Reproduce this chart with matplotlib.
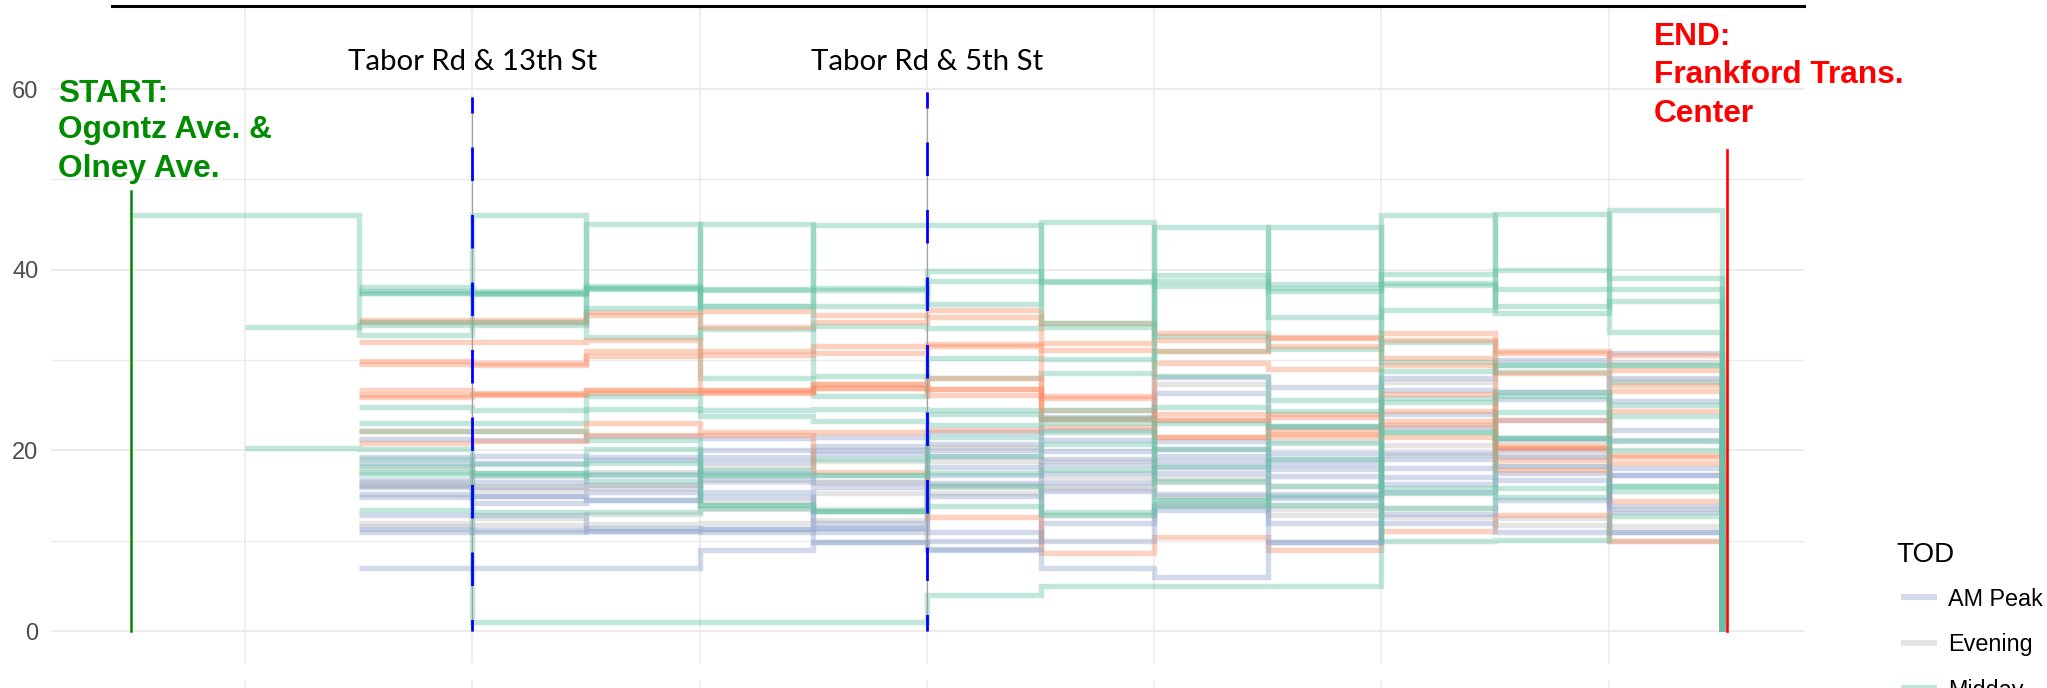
import matplotlib
matplotlib.use("Agg")
import matplotlib.pyplot as plt
from matplotlib.lines import Line2D
import numpy as np

plt.rcParams['lines.scale_dashes'] = False

# ---------------- data ----------------
stops = list(range(15))                 # stop index along the route (0 = start, 14 = end)
y_ticks = [0, 20, 40, 60]
y_minor = [10, 30, 50]
x_grid = [1, 3, 5, 7, 9, 11, 13]

tod_names = ["AM Peak", "Evening", "Midday", "PM Peak"]
tod_colors = ["#8DA0CB", "#BEBEBE", "#66C2A5", "#FC8D62"]

N = None
# values per segment (segment k runs from stop k to stop k+1)
am_peak_trips = [
    [N, N, 21.3, 21.2, 21.6, 21.4, 21.5, 22.0, 23.7, 28.1, 27.0, 28.0, 30.0, 30.8],
    [N, N, 19.3, 19.4, 19.3, 20.0, 20.5, 20.7, 22.2, 26.4, 22.6, 26.7, 26.5, 28.0],
    [N, N, 18.6, 18.6, 18.9, 19.3, 20.0, 20.0, 21.2, 21.0, 19.7, 24.0, 25.7, 25.5],
    [N, N, 16.7, 16.5, 17.3, 18.7, 19.6, 19.4, 19.9, 20.1, 19.0, 22.6, 23.4, 22.3],
    [N, N, 16.2, 15.9, 16.2, 17.5, 16.5, 18.2, 19.0, 19.4, 18.5, 19.7, 21.4, 21.2],
    [N, N, 15.9, 15.0, 15.4, 16.7, 15.9, 17.3, 18.4, 18.8, 17.9, 19.0, 20.0, 18.0],
    [N, N, 15.2, 14.2, 14.5, 15.4, 12.0, 16.4, 17.5, 18.2, 17.2, 18.0, 19.3, 17.3],
    [N, N, 14.8, 14.9, 14.5, 14.8, 11.4, 14.9, 16.4, 17.5, 15.2, 17.1, 18.3, 13.8],
    [N, N, 12.8, 12.8, 11.1, 11.3, 11.0, 10.0, 15.5, 15.2, 14.7, 16.3, 17.5, 13.2],
    [N, N, 11.3, 11.0, 11.1, 11.0, 9.8, 9.1, 12.0, 13.9, 12.0, 15.4, 16.7, 11.0],
    [N, N, 11.0, 11.2, 11.4, 11.3, 11.4, 11.0, 10.0, 13.4, 9.9, 13.0, 14.5, 17.3],
    [N, N, 7.0, 7.0, 7.0, 9.0, 9.9, 9.0, 7.0, 6.0, 9.9, 12.0, 11.0, 11.0],
]
evening_trips = [
    [N, N, 11.6, 11.7, 11.9, 12.0, 12.3, 15.3, 12.8, 14.0, 12.8, 12.6, 11.7, 10.0],
    [N, N, 18.0, 17.2, 17.6, 18.2, 18.8, 18.8, 18.8, 16.9, 14.0, 13.6, 12.5, 11.6],
    [N, N, 16.5, 15.6, 15.8, 14.3, 15.3, 15.9, 16.0, 15.0, 13.5, 19.5, 18.3, 13.5],
    [N, N, 12.0, 12.5, 13.0, 13.5, 13.5, 20.4, 16.9, 27.4, 21.0, 27.6, 21.0, 27.8],
    [N, N, 16.0, 16.0, 16.2, 16.5, 16.5, 16.2, 15.7, 16.5, 16.0, 20.6, 19.5, 29.8],
]
midday_trips = [
    [46.0, 46.0, 32.8, 46.0, 32.6, 33.4, 33.8, 33.6, 33.7, 32.7, 31.2, 32.0, 29.4, 29.4],
    [N, 33.7, 33.9, 33.9, 45.1, 28.0, 26.0, 30.2, 30.1, 44.7, 34.8, 35.5, 46.2, 33.1],
    [N, N, 34.2, 34.2, 35.8, 45.1, 28.2, 28.0, 28.6, 31.0, 44.7, 29.8, 28.7, 27.6],
    [N, N, 38.1, 37.6, 38.2, 36.0, 45.0, 45.0, 34.1, 38.7, 38.0, 38.3, 37.9, 37.9],
    [N, N, 37.4, 37.3, 38.0, 37.9, 38.0, 36.2, 45.3, 28.2, 25.6, 25.8, 26.5, 25.0],
    [N, N, 37.6, 37.4, 37.9, 37.8, 37.8, 38.8, 38.6, 38.2, 37.6, 38.5, 36.0, 46.6],
    [N, N, 37.4, 37.4, 38.0, 36.0, 36.0, 39.8, 38.8, 39.4, 38.4, 39.5, 40.0, 39.1],
    [N, N, 24.8, 24.5, 26.0, 24.5, 24.6, 24.5, 24.5, 24.8, 24.4, 25.3, 26.0, 23.8],
    [N, N, 23.0, 23.0, 24.6, 23.8, 23.2, 24.0, 23.6, 23.0, 22.7, 28.8, 29.4, 29.4],
    [N, N, 22.1, 22.1, 21.2, 17.8, 19.0, 22.8, 23.0, 20.2, 22.7, 22.0, 21.4, 21.0],
    [N, 20.3, 20.2, 1.0, 1.0, 1.0, 1.0, 4.0, 5.0, 5.0, 5.0, 46.0, 35.2, 36.5],
    [N, N, 19.0, 18.5, 20.1, 17.3, 17.3, 21.5, 22.0, 18.3, 20.8, 15.8, 15.8, 16.0],
    [N, N, 18.3, 17.5, 18.6, 17.3, 17.3, 19.4, 20.7, 16.6, 19.0, 15.3, 14.8, 15.5],
    [N, N, 17.6, 17.3, 17.4, 14.0, 13.3, 17.5, 17.8, 14.5, 16.0, 22.0, 24.2, 20.0],
    [N, N, 17.4, 17.5, 16.6, 14.0, 13.3, 16.1, 13.2, 13.8, 15.0, 13.6, 21.4, 16.0],
    [N, N, 13.4, 13.2, 13.2, 13.6, 13.3, 13.8, 12.8, 14.5, 14.0, 10.0, 10.1, 12.7],
]
pm_peak_trips = [
    [N, N, 34.4, 34.4, 35.3, 35.4, 35.0, 35.5, 34.1, 33.0, 32.6, 33.0, 31.0, 30.6],
    [N, N, 34.2, 34.2, 35.0, 33.7, 34.2, 34.8, 31.9, 32.2, 32.4, 32.2, 30.8, 28.9],
    [N, N, 32.0, 32.0, 32.2, 31.0, 31.5, 31.8, 31.1, 31.0, 31.5, 30.2, 28.6, 27.2],
    [N, N, 29.9, 29.7, 31.0, 30.6, 30.8, 31.6, 26.0, 29.7, 29.0, 29.5, 23.4, 26.6],
    [N, N, 29.6, 29.5, 30.5, 26.7, 27.3, 28.0, 25.8, 24.0, 24.0, 26.2, 20.5, 24.4],
    [N, N, 26.7, 26.4, 26.7, 26.5, 26.9, 26.8, 24.5, 23.4, 23.7, 24.4, 20.3, 19.5],
    [N, N, 26.1, 26.1, 26.3, 26.3, 27.3, 26.1, 23.5, 21.5, 22.2, 23.2, 18.9, 19.3],
    [N, N, 25.9, 26.2, 26.7, 26.7, 26.9, 26.8, 23.5, 23.4, 21.8, 22.8, 20.3, 18.6],
    [N, N, 22.1, 22.1, 23.0, 22.0, 22.0, 22.3, 22.6, 21.5, 21.6, 21.5, 17.8, 14.4],
    [N, N, 20.8, 21.0, 21.7, 21.7, 17.6, 12.6, 8.6, 10.4, 9.0, 11.1, 12.8, 10.0],
]
trips_by_tod = [am_peak_trips, evening_trips, midday_trips, pm_peak_trips]

start_label = ["START:", "Ogontz Ave. &", "Olney Ave."]
end_label = ["END:", "Frankford Trans.", "Center"]
timepoint_labels = ["Tabor Rd & 13th St", "Tabor Rd & 5th St"]
timepoint_stops = [3, 7]
timepoint_tops = [59.1, 59.7]
start_top, end_top, end_x = 48.7, 53.2, 14.04

# ---------------- figure ----------------
W, H, DPI = 2047, 688, 100
fig = plt.figure(figsize=(W / DPI, H / DPI), dpi=DPI)
fig.patch.set_facecolor("white")

def fx(px):
    return px / W

def fy(py):
    return 1 - py / H

ax = fig.add_axes([fx(51), fy(663), fx(1804 - 51), (663 - 7) / H])
ax.set_xlim(-0.7066, 14.718)
ax.set_ylim(-3.54, 69.08)
for s in ax.spines.values():
    s.set_visible(False)

grid_c = "#EBEBEB"
for y in y_ticks:
    ax.axhline(y, color=grid_c, lw=1.3, zorder=0)
for y in y_minor:
    ax.axhline(y, color=grid_c, lw=1.0, zorder=0)
for x in x_grid:
    ax.axvline(x, color=grid_c, lw=1.1, zorder=0)

ax.set_xticks([])
ax.set_yticks(y_ticks)
ax.set_yticklabels([str(v) for v in y_ticks], fontsize=17, color="#4D4D4D",
                   fontfamily="Liberation Sans")
ax.tick_params(axis="y", length=0, pad=9.0)

# trips (interleave colours so overlaps mix)
max_n = max(len(t) for t in trips_by_tod)
for i in range(max_n):
    for tod_i, trips in enumerate(trips_by_tod):
        if i >= len(trips):
            continue
        vals = trips[i]
        first = next(k for k, v in enumerate(vals) if v is not None)
        xs = stops[first:]
        ys = list(vals[first:]) + [0]
        ax.plot(xs, ys, drawstyle="steps-post", color=tod_colors[tod_i], alpha=0.4,
                lw=3.9, solid_joinstyle="miter", solid_capstyle="butt", zorder=2)

# start / end markers
ax.plot([0, 0], [0, start_top], color="#008B00", lw=1.8, zorder=4)
ax.plot([end_x, end_x], [0, end_top], color="#FF0000", lw=1.9, zorder=4)

for sx, top, lab in zip(timepoint_stops, timepoint_tops, timepoint_labels):
    ax.plot([sx, sx], [0, top], color="#A0A0A0", lw=0.9, zorder=3)
    ax.plot([sx, sx], [top, 0], color="#0000FF", lw=2.0, zorder=4,
            linestyle=(12.6, (24.1, 24.5)), solid_capstyle="butt", dash_capstyle="butt")
    ax.text(sx, 62.1, lab, ha="center", va="baseline", fontsize=21.2,
            fontfamily="Lato", color="black")

for txt, yb in zip(start_label, [58.6, 54.55, 50.3]):
    ax.text(-0.645, yb, txt, ha="left", va="baseline", fontsize=22.8, fontweight="bold",
            fontfamily="Liberation Sans", color="#008B00")
for txt, yb in zip(end_label, [64.87, 60.63, 56.38]):
    ax.text(13.398, yb, txt, ha="left", va="baseline", fontsize=22.8, fontweight="bold",
            fontfamily="Liberation Sans", color="#FF0000", clip_on=False)

# top rule (bottom of panel above)
fig.add_artist(Line2D([fx(112), fx(1804)], [fy(6), fy(6)], color="black", lw=2.2))

# grid stubs of the panel below
ax2 = fig.add_axes([fx(51), 0, fx(1804 - 51), fy(680)])
ax2.set_xlim(-0.7066, 14.718)
ax2.set_ylim(0, 1)
ax2.axis("off")
for x in x_grid:
    ax2.axvline(x, color=grid_c, lw=1.1, zorder=0)

# legend (entries below the crop edge are not visible in the original)
fig.text(fx(1896), fy(562), "TOD", fontsize=20, fontfamily="Liberation Sans",
         ha="left", va="baseline", color="black")
for k, (name, col) in enumerate(zip(tod_names, tod_colors)):
    yk = 597 + 45.5 * k
    if yk > H:
        continue
    fig.add_artist(Line2D([fx(1901), fx(1937)], [fy(yk), fy(yk)], color=col, alpha=0.4,
                          lw=4.3, solid_capstyle="butt"))
    fig.text(fx(1948), fy(yk + 8.8), name, fontsize=16.8, fontfamily="Liberation Sans",
             ha="left", va="baseline", color="black")

fig.savefig("out.png", dpi=DPI, facecolor="white")
